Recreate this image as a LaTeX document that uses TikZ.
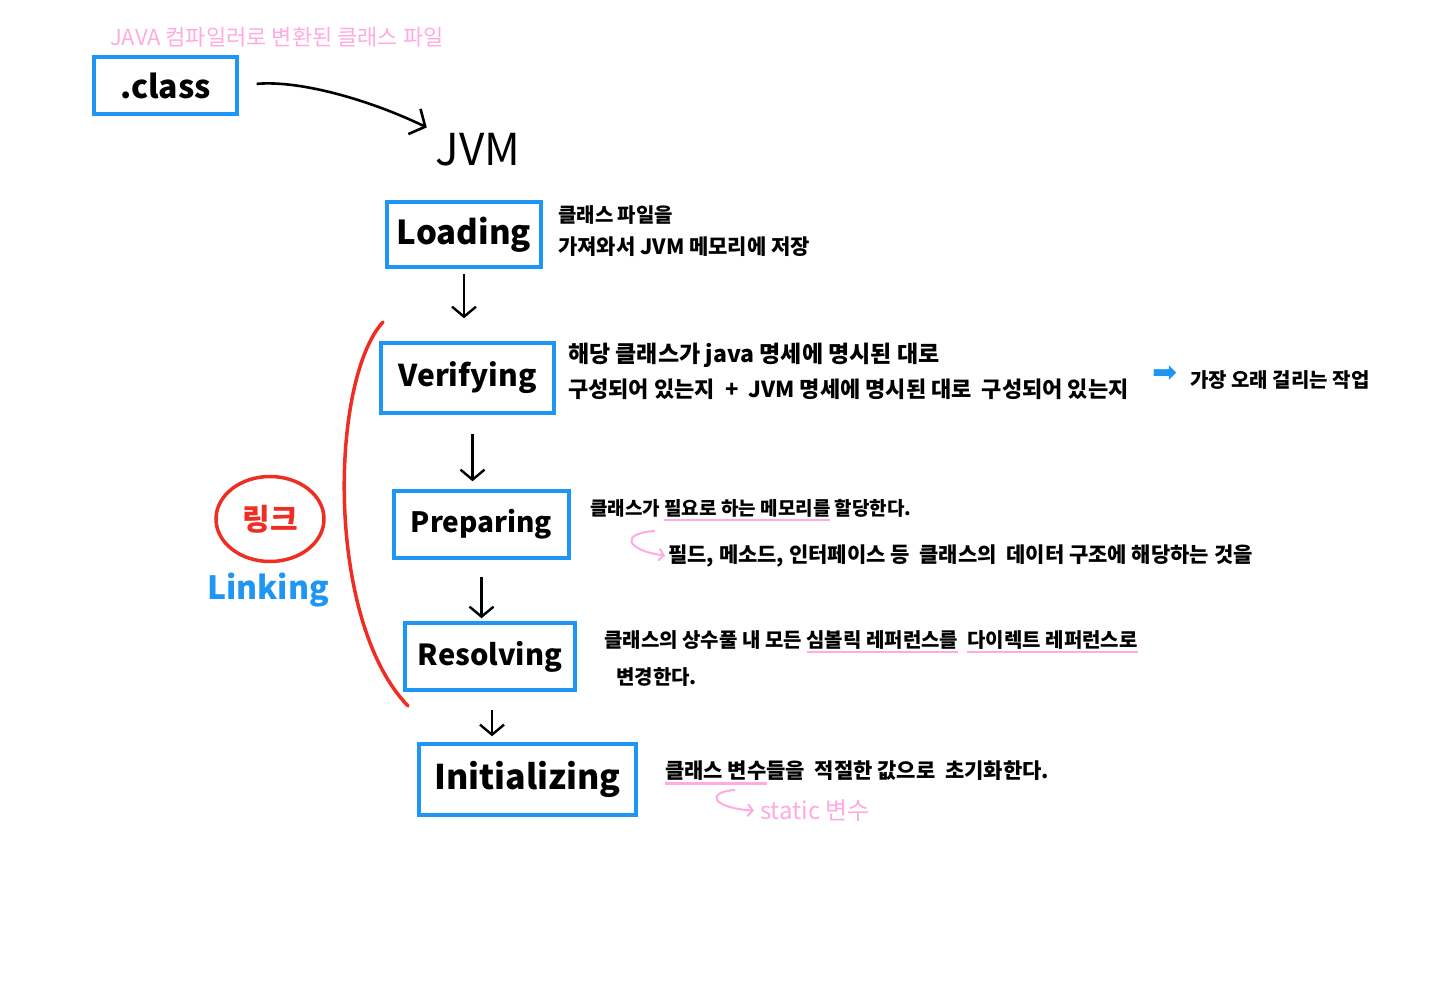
\documentclass[tikz,border=0pt]{standalone}
\usepackage{fontspec}
\setmainfont{Noto Sans CJK KR}
\newfontfamily\symfont{DejaVu Sans}
\usetikzlibrary{arrows.meta,shapes.geometric}
\definecolor{boxblue}{RGB}{30,150,245}
\definecolor{linkred}{RGB}{240,45,35}
\definecolor{notepink}{RGB}{255,170,225}
% pink underline below a few words
\newcommand{\pinkul}[1]{\setbox0\hbox{#1}\rlap{\color{notepink}\rule[-6pt]{\wd0}{2.5pt}}\box0\relax}
\newcommand{\fs}[1]{\fontsize{#1}{#1}\selectfont}

\begin{document}
\begin{tikzpicture}[x=1pt, y=-1pt,
    stage/.style={draw=boxblue, line width=3.5pt, inner sep=0pt, font=\fs{29}\bfseries},
    note/.style={anchor=west, inner sep=0pt, font=\fs{21}\bfseries},
    pinknote/.style={anchor=west, inner sep=0pt, text=notepink, font=\fs{22}},
    down/.style={-{Straight Barb[length=10pt,width=24pt]}, line width=2.4pt},
    hook/.style={-{Straight Barb[length=5pt,width=12pt]}, notepink, line width=2pt}]
\useasboundingbox (0,0) rectangle (1449,1000);

% class file and jvm
\node[pinknote] (header) at (110,37) {JAVA 컴파일러로 변환된 클래스 파일};
\node[stage, minimum width=143, minimum height=57, font=\fs{32}\bfseries] (class) at (165.5,85.5) {.class};
\node[font=\fs{44}] (jvm) at (478,150) {JVM};
\draw[-{Straight Barb[length=12pt,width=28pt]}, line width=2.6pt, shorten <=18pt, shorten >=6pt]
    (class.east) .. controls (300,80) and (370,100) .. (jvm.north west);

% stages
\node[stage, minimum width=154, minimum height=65, font=\fs{33}\bfseries] (loading) at (464,234.5) {Loading};
\node[stage, minimum width=173, minimum height=70, font=\fs{30}\bfseries] (verifying) at (467.5,378) {Verifying};
\node[stage, minimum width=175, minimum height=67, font=\fs{28}\bfseries] (preparing) at (481.5,524.5) {Preparing};
\node[stage, minimum width=170, minimum height=67] (resolving) at (490,656.5) {Resolving};
\node[stage, minimum width=217, minimum height=71, font=\fs{34}\bfseries] (initializing) at (527.5,779.5) {Initializing};

\draw[down, shorten <=5pt, shorten >=23pt] (loading.south) -- (loading.south |- verifying.north);
\draw[down, shorten <=19pt, shorten >=8pt] ([xshift=5pt]verifying.south) -- ([xshift=5pt]verifying.south |- preparing.north);
\draw[down, shorten <=17pt, shorten >=3pt] (preparing.south) -- (preparing.south |- resolving.north);
\draw[down, shorten <=18pt, shorten >=6pt] ([xshift=2pt]resolving.south) -- ([xshift=2pt]resolving.south |- initializing.north);

% notes
\node[note, font=\fs{20}\bfseries] (loadnote1) at (558,215) {클래스 파일을};
\node[note] (loadnote2) at (558,247) {가져와서 JVM 메모리에 저장};

\node[note, font=\fs{23}\bfseries] (verifynote1) at (568,355) {해당 클래스가 java 명세에 명시된 대로};
\node[note, font=\fs{22}\bfseries] (verifynote2) at (568,389) {구성되어 있는지 \ + \ JVM 명세에 명시된 대로 \ 구성되어 있는지};
\node[anchor=center, inner sep=0pt, text=boxblue, font=\symfont\fs{30}] (slowarrow) at (1165,374) {➡};
\node[note, font=\fs{20}\bfseries] (slownote) at (1190,380) {가장 오래 걸리는 작업};

\node[note, font=\fs{19}\bfseries] (prepnote1) at (590,510) {클래스가 \pinkul{필요로 하는 메모리를} 할당한다.};
\node[note] (prepnote2) at (668,556) {필드, 메소드, 인터페이스 등 \ 클래스의 \ 데이터 구조에 해당하는 것을};
\coordinate (prephook) at (655,531);
\draw[hook, shorten >=3pt] (prephook) .. controls (620,533) and (625,550) .. (prepnote2.west);

\node[note, font=\fs{20}\bfseries] (resolvenote1) at (604,642) {클래스의 상수풀 내 모든 \pinkul{심볼릭 레퍼런스를} \ \pinkul{다이렉트 레퍼런스로}};
\node[note, font=\fs{20}\bfseries] (resolvenote2) at (616,677) {변경한다.};

\node[note] (initnote) at (665,773) {\pinkul{클래스 변수}들을 \ 적절한 값으로 \ 초기화한다.};
\node[pinknote, font=\fs{24}] (staticnote) at (760,811) {static 변수};
\coordinate (inithook) at (735,790);
\draw[hook, shorten >=6pt] (inithook) .. controls (705,792) and (712,808) .. (staticnote.west);

% linking bracket
\draw[linkred, line width=3.5pt, line cap=round] (383,322) .. controls (330,380) and (325,620) .. (408,706);
\node[ellipse, draw=linkred, line width=3.5pt, minimum width=108, minimum height=85,
    text=linkred, font=\fs{30}\bfseries] (linkko) at (270,519) {링크};
\node[text=boxblue, font=\fs{32}\bfseries] (linking) at (268,590) {Linking};
\end{tikzpicture}
\end{document}
